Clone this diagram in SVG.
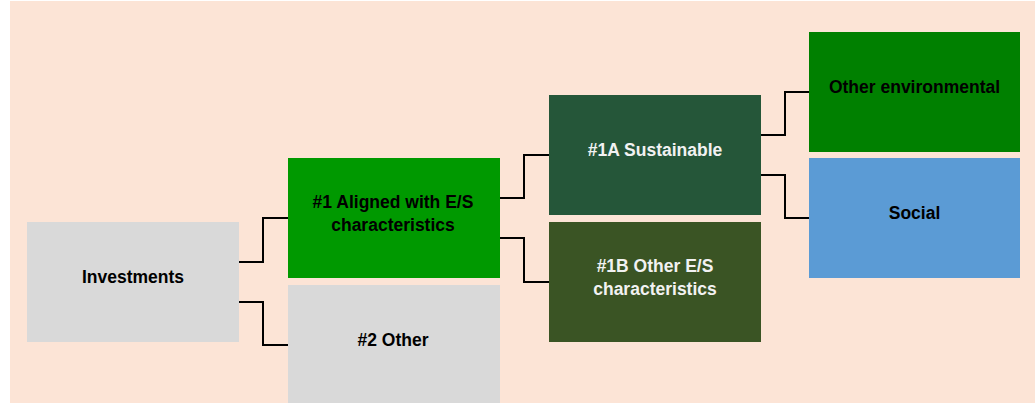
<svg xmlns="http://www.w3.org/2000/svg" width="1035" height="403" viewBox="0 0 1035 403">
<style>
.bg{fill:#FCE4D6}
.lbl{font-family:"Liberation Sans",Arial,Helvetica,sans-serif;font-weight:bold;font-size:17.5px;text-anchor:middle}
.dark{fill:#000000}
.light{fill:#F2F2F2}
.conn{fill:none;stroke:#000000;stroke-width:2}
</style>
<rect x="0" y="0" width="1035" height="403" fill="#FFFFFF"/>
<rect class="bg" x="10" y="1" width="1025" height="402"/>
<g id="connectors">
<path class="conn" d="M239,262 H263 V218 H288"/>
<path class="conn" d="M239,302 H263 V345 H288"/>
<path class="conn" d="M500,198 H524 V155 H549"/>
<path class="conn" d="M500,238 H524 V282 H549"/>
<path class="conn" d="M761,135 H785 V92 H809"/>
<path class="conn" d="M761,175 H785 V218 H809"/>
</g>
<g id="node-investments">
<rect x="27" y="222" width="212" height="120" fill="#D9D9D9"/>
<text class="lbl dark" x="133" y="282.5">Investments</text>
</g>
<g id="node-aligned">
<rect x="288" y="158" width="212" height="120" fill="#009900"/>
<text class="lbl dark" x="393" y="208">#1 Aligned with E/S</text>
<text class="lbl dark" x="393" y="230.5">characteristics</text>
</g>
<g id="node-other">
<rect x="288" y="285" width="212" height="120" fill="#D9D9D9"/>
<text class="lbl dark" x="393" y="346">#2 Other</text>
</g>
<g id="node-sustainable">
<rect x="549" y="95" width="212" height="120" fill="#255639"/>
<text class="lbl light" x="655" y="156">#1A Sustainable</text>
</g>
<g id="node-other-es">
<rect x="549" y="222" width="212" height="120" fill="#3A5424"/>
<text class="lbl light" x="655" y="272">#1B Other E/S</text>
<text class="lbl light" x="655" y="294.5">characteristics</text>
</g>
<g id="node-other-env">
<rect x="809" y="32" width="211" height="120" fill="#008000"/>
<text class="lbl dark" x="914.5" y="93">Other environmental</text>
</g>
<g id="node-social">
<rect x="809" y="158" width="211" height="120" fill="#5B9BD5"/>
<text class="lbl dark" x="914.5" y="219">Social</text>
</g>
</svg>
